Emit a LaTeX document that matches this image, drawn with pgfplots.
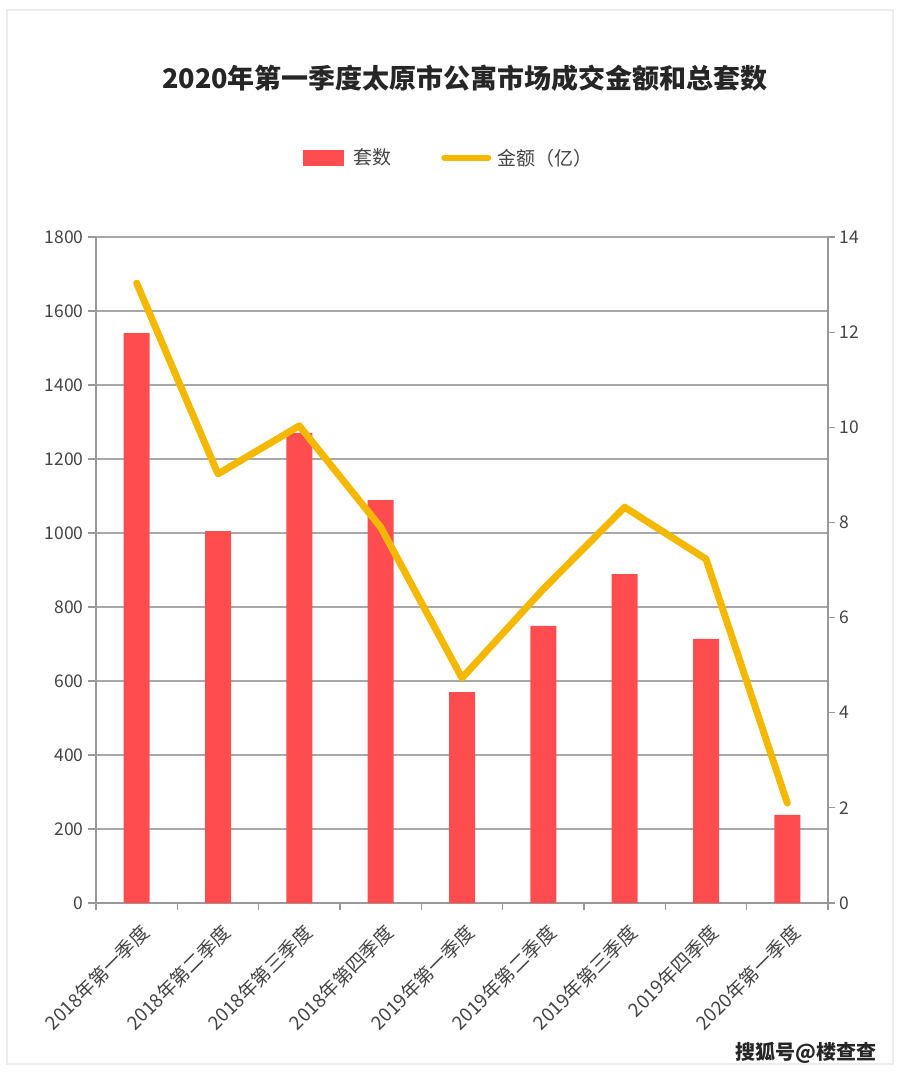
\documentclass[border=0pt]{standalone}
\usepackage{pgfplots}
\pgfplotsset{compat=1.18}
\usepackage{fontspec}
\setmainfont{Noto Sans CJK SC}
\definecolor{barred}{HTML}{FF4D4F}
\definecolor{lineyellow}{HTML}{F5B800}
\definecolor{txt}{HTML}{444444}
\definecolor{gridc}{HTML}{A8A8A8}
\definecolor{axc}{HTML}{999999}
\begin{document}
\begin{tikzpicture}[x=1pt,y=1pt]
\path[use as bounding box] (0,0) rectangle (900,-1075);
\draw[gray!15, line width=2pt] (7,-10) rectangle (893,-1064);
\node[font=\fontsize{27}{32}\selectfont\bfseries, text=black!85] at (465,-78) {2020年第一季度太原市公寓市场成交金额和总套数};
\node[font=\fontsize{20}{24}\selectfont\bfseries, text=black!85, anchor=east] at (880,-1053) {搜狐号@楼查查};
\begin{axis}[
  at={(96pt,-903pt)}, anchor=south west,
  scale only axis, width=732pt, height=666pt,
  xmin=-0.5, xmax=8.5, ymin=0, ymax=1800,
  ytick={0,200,...,1800},
  xtick={0,...,8},
  xticklabels={2018年第一季度,2018年第二季度,2018年第三季度,2018年第四季度,2019年第一季度,2019年第二季度,2019年第三季度,2019年四季度,2020年第一季度},
  minor xtick={-0.5,0.5,...,8.5},
  axis y line*=left, axis x line*=bottom,
  axis line style={axc, line width=1.2pt, -},
  ymajorgrids, grid style={gridc, line width=1.2pt},
  every major x tick/.style={draw=none},
  minor tick length=7pt,
  xtick align=outside, ytick align=outside, major tick length=8pt,
  minor tick style={axc, line width=1.2pt},
  ytick style={axc, line width=1.2pt},
  ticklabel style={text=txt},
  yticklabel style={font=\fontsize{17.5}{20}\selectfont, xshift=-1pt},
  /pgf/number format/assume math mode=true,
  /pgf/number format/1000 sep={},
  xticklabel style={font=\fontsize{19}{22}\selectfont, rotate=45, anchor=north east, xshift=-3pt, yshift=-7pt},
  ybar, bar width=26pt,
]
\addplot[fill=barred, draw=none] coordinates {
(0,1540) (1,1005) (2,1270) (3,1089) (4,570) (5,749) (6,889) (7,714) (8,238)};
\end{axis}
\begin{axis}[
  at={(96pt,-903pt)}, anchor=south west,
  scale only axis, width=732pt, height=666pt,
  xmin=-0.5, xmax=8.5, ymin=0, ymax=14,
  ytick={0,2,...,14},
  axis y line*=right, axis x line=none,
  axis line style={axc, line width=1.2pt, -},
  ytick align=outside, major tick length=7pt,
  ytick style={axc, line width=1.2pt},
  yticklabel style={font=\fontsize{17.5}{20}\selectfont, text=txt, xshift=1pt},
  /pgf/number format/assume math mode=true,
  legend style={draw=none, fill=none, at={(0.482,1.119)}, anchor=center,
    font=\fontsize{19}{22}\selectfont, text=txt, legend columns=2,
    /tikz/every even column/.append style={column sep=48pt}},
  legend cell align=left,
]
\addlegendimage{legend image code/.code={\fill[barred] (0pt,-7.5pt) rectangle (40pt,7.5pt); \path (48pt,0pt);}}
\addlegendentry{套数}
\addplot[color=lineyellow, line width=7pt, line join=round, line cap=round,
  legend image code/.code={\draw[lineyellow, line width=6pt, line cap=round] (0pt,0pt) -- (44pt,0pt); \path (48pt,0pt);}]
  coordinates {(0,13.03) (1,9.02) (2,10.03) (3,7.9) (4,4.73) (5,6.6) (6,8.32) (7,7.23) (8,2.1)};
\addlegendentry{金额（亿）}
\end{axis}
\end{tikzpicture}
\end{document}
